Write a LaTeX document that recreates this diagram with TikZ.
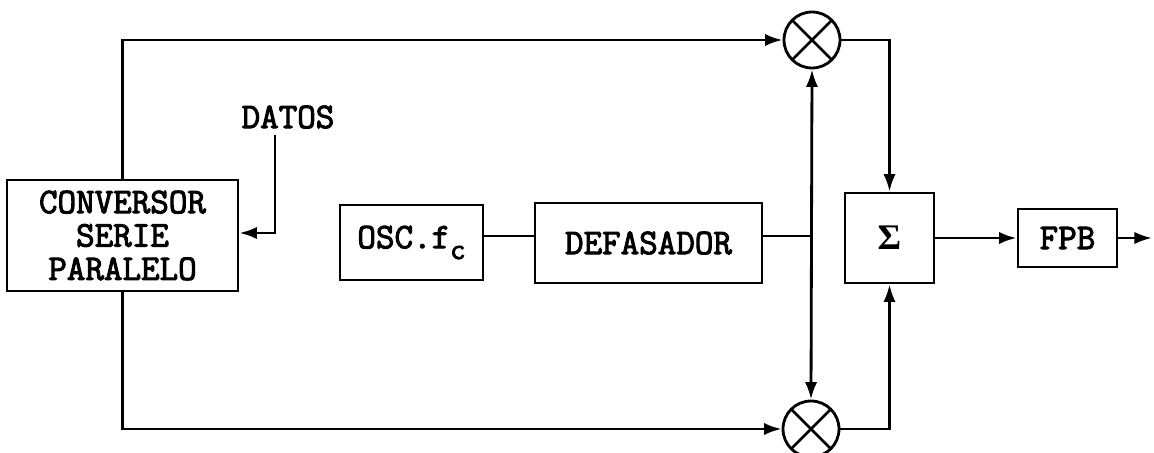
\documentclass[tikz,border=0pt]{standalone}
\usepackage{fontspec}
\newfontfamily\maquina[FakeBold=2.8]{Latin Modern Mono}
\newfontfamily\sigmafont{Liberation Serif}
\usetikzlibrary{positioning,arrows.meta}

\tikzset{
  bloque/.style={draw,line width=1.6pt,inner sep=2pt,align=center},
  mult/.style={circle,draw,line width=1.6pt,minimum size=1.12cm,inner sep=0pt,
    path picture={\draw[line width=1.6pt]
      (path picture bounding box.north west)--(path picture bounding box.south east)
      (path picture bounding box.south west)--(path picture bounding box.north east);}},
  flecha/.style={line width=1.6pt,-{Latex[length=10pt,width=7pt]}},
  linea/.style={line width=1.6pt}
}

\begin{document}
\begin{tikzpicture}[x=0.02cm,y=-0.02cm,
    every node/.style={font=\maquina\fontsize{20.5}{19}\selectfont}]
  \useasboundingbox (0,0) rectangle (1154,453);
  % bloques
  \node[bloque,minimum width=4.62cm,minimum height=2.22cm] (conv) at (122.5,235.5)
    {CONVERSOR\\SERIE\\PARALELO};
  \node (datos) at (288,117) {DATOS};
  \node[bloque,minimum width=2.86cm,minimum height=1.5cm] (osc) at (411.5,242.5)
    {OSC.f\raisebox{-0.3em}{\fontsize{17}{17}\selectfont c}};
  \node[bloque,minimum width=4.54cm,minimum height=1.6cm] (desf) at (648.5,243)
    {DEFASADOR};
  \node[mult] (mtop) at (812,40) {};
  \node[mult] (mbot) at (811,429) {};
  \node[bloque,minimum width=1.78cm,minimum height=1.8cm] (suma) at (889.5,238)
    {\sigmafont\bfseries Σ};
  \node[bloque,minimum width=1.98cm,minimum height=1.16cm] (fpb) at (1067.5,238)
    {FPB};
  \coordinate (j) at (811,236);
  \coordinate (d) at (275,233);
  \coordinate (out) at (1152,238);

  % conexiones
  \draw[flecha] (conv.north) |- (mtop.west);
  \draw[flecha] (conv.south) |- (mbot.west);
  \draw[flecha] (datos.south -| d) -- (d) -- (conv.east |- d);
  \draw[linea] (osc.east |- j) -- (desf.west |- j);
  \draw[linea] (desf.east |- j) -- (j);
  \draw[line width=1.6pt,{Latex[length=10pt,width=7pt]}-{Latex[length=10pt,width=7pt]}]
    (mtop.south) -- (mbot.north);
  \draw[flecha] (mtop.east) -| (suma.north);
  \draw[flecha] (mbot.east) -| (suma.south);
  \draw[flecha] (suma.east) -- (fpb.west);
  \draw[flecha] (fpb.east) -- (out);
\end{tikzpicture}
\end{document}
